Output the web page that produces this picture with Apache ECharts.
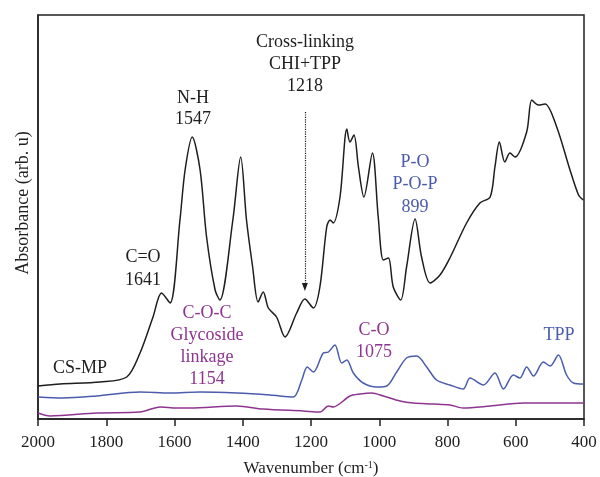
<!DOCTYPE html>
<html>
<head>
<meta charset="utf-8">
<script src="https://cdn.jsdelivr.net/npm/echarts@6/dist/echarts.min.js"></script>
<style>
  html, body { margin: 0; padding: 0; background: #fff; }
  #main { width: 600px; height: 477px; }
</style>
</head>
<body>
<div id="main"></div>
<script>
// CS-MP spectrum (black)
var csmpWave = [2000, 1935, 1818, 1740, 1701, 1663, 1638, 1613, 1584, 1569, 1548, 1525, 1506, 1481, 1467,
    1429, 1406, 1389, 1371, 1355, 1340, 1325, 1301, 1276, 1242, 1218, 1193, 1174, 1154, 1144, 1135,
    1115, 1095, 1086, 1074, 1061, 1045, 1020, 1003, 988, 973, 959, 937, 920, 895, 876, 851, 822, 793,
    744, 705, 675, 661, 648, 632, 617, 602, 568, 553, 534, 514, 480, 441, 416, 402];
var csmpAbs = [34, 36, 38, 43, 67, 103, 127, 117, 200, 250, 283, 250, 183, 130, 120,
    200, 263, 200, 153, 118, 128, 112, 103, 83, 107, 121, 112, 133, 193, 200, 197,
    223, 291, 278, 285, 253, 223, 267, 203, 160, 162, 133, 120, 153, 201, 163, 137, 145, 162,
    197, 217, 223, 253, 278, 258, 267, 263, 288, 320, 315, 316, 293, 250, 225, 220];

// TPP spectrum (blue)
var tppWave = [2000, 1927, 1828, 1701, 1613, 1525, 1418, 1320, 1252, 1227, 1211, 1193, 1164, 1149, 1130,
    1110, 1095, 1076, 1047, 1007, 978, 949, 920, 890, 861, 832, 793, 754, 734, 695, 661, 636, 607,
    588, 568, 548, 519, 499, 475, 451, 431, 402];
var tppAbs = [23, 22, 24, 28, 27, 28, 27, 25, 23, 40, 53, 48, 67, 68, 75,
    57, 60, 47, 37, 33, 34, 48, 62, 64, 53, 40, 35, 31, 42, 35, 47, 31, 45,
    42, 53, 44, 58, 54, 65, 45, 37, 36];

// chitosan spectrum (purple)
var csWave = [2000, 1965, 1828, 1701, 1642, 1594, 1555, 1418, 1340, 1223, 1174, 1149, 1135, 1086, 1056,
    1022, 988, 939, 900, 842, 793, 754, 675, 578, 402];
var csAbs = [7, 4, 7, 8, 13, 12, 12, 14, 11, 9, 8, 14, 13, 24, 26,
    27, 24, 19, 17, 16, 15, 12, 14, 17, 17];

var xTicks = [2000, 1800, 1600, 1400, 1200, 1000, 800, 600, 400];

function pairs(w, a) {
    var out = [];
    for (var i = 0; i < w.length; i++) {
        out.push([w[i], a[i]]);
    }
    return out;
}

var serif = '"Liberation Serif", "DejaVu Serif", serif';
var black = '#1e1e1e', blue = '#4a5cab', purple = '#8e3590';

// annotation lines: text, x, y, color
var notes = [
    ['Cross-linking', 305, 42, black], ['CHI+TPP', 305, 64, black], ['1218', 305, 86, black],
    ['N-H', 193, 98, black], ['1547', 193, 119, black],
    ['C=O', 143, 257, black], ['1641', 143, 280, black],
    ['CS-MP', 80, 368, black],
    ['C-O-C', 207, 313, purple], ['Glycoside', 207, 335, purple], ['linkage', 207, 357, purple], ['1154', 207, 379, purple],
    ['C-O', 374, 330, purple], ['1075', 374, 352, purple],
    ['P-O', 415, 162, blue], ['P-O-P', 415, 184, blue], ['899', 415, 207, blue],
    ['TPP', 559, 335, blue]
];

var graphics = notes.map(function (n) {
    return {
        type: 'text', x: n[1], y: n[2],
        style: { text: n[0], fill: n[3], font: '18px ' + serif, textAlign: 'center', textVerticalAlign: 'middle' }
    };
});
graphics.push({
    type: 'text', x: 23, y: 203, rotation: Math.PI / 2,
    style: { text: 'Absorbance (arb. u)', fill: black, font: '18px ' + serif, textAlign: 'center', textVerticalAlign: 'middle' }
});

var myChart = echarts.init(document.getElementById('main'));
var option = {
    animation: false,
    grid: {
        left: 38, right: 16, top: 15, bottom: 58, outerBoundsMode: 'none', containLabel: false,
        show: true, borderColor: '#222', borderWidth: 1.5
    },
    xAxis: {
        type: 'value', inverse: true, min: 400, max: 2000, interval: 200,
        splitLine: { show: false },
        axisLine: { lineStyle: { color: '#222', width: 1.5 } },
        axisTick: { inside: false, length: 7, lineStyle: { color: '#222', width: 1.5 } },
        axisLabel: {
            margin: 15, color: black, fontFamily: serif, fontSize: 17,
            formatter: function (v) { return xTicks.indexOf(v) >= 0 ? String(v) : ''; }
        },
        name: 'Wavenumber (cm{sup|-1})',
        nameLocation: 'middle', nameGap: 41,
        nameTextStyle: {
            color: black, fontFamily: serif, fontSize: 17,
            rich: { sup: { fontSize: 10, verticalAlign: 'top', lineHeight: 10, padding: [0, 0, 8, 0], fontFamily: serif, color: black } }
        }
    },
    yAxis: {
        type: 'value', min: 1, max: 405,
        splitLine: { show: false },
        axisLine: { show: true, lineStyle: { color: '#222', width: 1.5 } },
        axisTick: { show: false },
        axisLabel: { show: false }
    },
    graphic: graphics,
    series: [
        {
            name: 'CS', type: 'line', data: pairs(csWave, csAbs), showSymbol: false, smooth: 0.3,
            lineStyle: { color: purple, width: 1.5 }
        },
        {
            name: 'TPP', type: 'line', data: pairs(tppWave, tppAbs), showSymbol: false, smooth: 0.3,
            lineStyle: { color: blue, width: 1.5 }
        },
        {
            name: 'CS-MP', type: 'line', data: pairs(csmpWave, csmpAbs), showSymbol: false, smooth: 0.3,
            lineStyle: { color: black, width: 1.5 },
            markLine: {
                silent: true, symbol: ['none', 'triangle'], symbolSize: [6, 8],
                label: { show: false },
                lineStyle: { color: black, type: 'dotted', width: 1.2 },
                data: [[{ coord: [1218, 308] }, { coord: [1218, 133] }]]
            }
        }
    ]
};
myChart.setOption(option);
</script>
</body>
</html>
